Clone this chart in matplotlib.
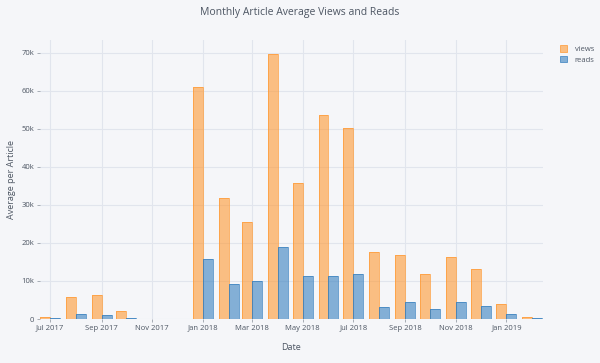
import matplotlib
matplotlib.use("Agg")
import matplotlib.pyplot as plt
import matplotlib.dates as mdates
from matplotlib.ticker import FuncFormatter, MultipleLocator
from matplotlib.patches import Patch
import datetime as dt

months = ["2017-07", "2017-08", "2017-09", "2017-10",
          "2018-01", "2018-02", "2018-03", "2018-04", "2018-05", "2018-06",
          "2018-07", "2018-08", "2018-09", "2018-10", "2018-11", "2018-12",
          "2019-01", "2019-02"]
views = [500, 5700, 6400, 2200,
         60900, 31700, 25600, 69500, 35800, 53500,
         50200, 17600, 16700, 11900, 16200, 13100,
         4000, 600]
reads = [200, 1300, 1050, 350,
         15800, 9200, 10000, 19000, 11400, 11400,
         11800, 3100, 4500, 2700, 4400, 3400,
         1300, 350]
xtick_labels = ["Jul 2017", "Sep 2017", "Nov 2017", "Jan 2018", "Mar 2018",
                "May 2018", "Jul 2018", "Sep 2018", "Nov 2018", "Jan 2019"]

BG = "#F5F6F9"
GRID = "#E1E5ED"
TXT = "#4D5663"
ORANGE = "#ff9933"
BLUE = "#3780bf"

plt.rcParams['font.family'] = ['Open Sans', 'DejaVu Sans']

dates = [dt.datetime.strptime(m, "%Y-%m") for m in months]
x = mdates.date2num(dates)
bw = 12.0

fig = plt.figure(figsize=(6, 3.63), dpi=100, facecolor=BG)
ax = fig.add_axes([40/600, 1 - 319/363, (543-40)/600, (319-40)/363])
ax.set_facecolor(BG)

ax.bar(x - bw/2, views, width=bw, color=ORANGE, alpha=0.6, edgecolor="none", zorder=3)
ax.bar(x - bw/2, views, width=bw, facecolor="none", edgecolor=ORANGE, linewidth=0.5, zorder=3)
ax.bar(x + bw/2, reads, width=bw, color=BLUE, alpha=0.6, edgecolor="none", zorder=3)
ax.bar(x + bw/2, reads, width=bw, facecolor="none", edgecolor=BLUE, linewidth=0.5, zorder=3)

left = mdates.date2num(dt.datetime(2017, 6, 19))
right = mdates.date2num(dt.datetime(2019, 2, 14))
ax.set_xlim(left, right)
ax.set_ylim(0, 73300)

tick_dates = [dt.datetime.strptime(s, "%b %Y") for s in xtick_labels]
ax.set_xticks(mdates.date2num(tick_dates))
ax.set_xticklabels(xtick_labels)
ax.yaxis.set_major_locator(MultipleLocator(10000))
ax.yaxis.set_major_formatter(FuncFormatter(lambda v, p: "0" if v == 0 else f"{int(v/1000)}k"))

ax.grid(True, color=GRID, linewidth=0.8, zorder=0)
for s in ax.spines.values():
    s.set_visible(False)
ax.tick_params(axis="both", colors=TXT, labelsize=5.5, length=2.5, width=0.6, pad=1.5)
ax.tick_params(axis="x", color="#9aa0aa")
ax.tick_params(axis="y", color="#9aa0aa")

ax.set_xlabel("Date", color=TXT, fontsize=6.5)
ax.set_ylabel("Average per Article", color=TXT, fontsize=6.5)
ax.xaxis.set_label_coords(0.5, (319 - 348) / 279, transform=ax.transAxes)
ax.yaxis.set_label_coords((12 - 40) / 503, 0.5, transform=ax.transAxes)
ax.xaxis.label.set_va("center")
ax.yaxis.label.set_va("center")
fig.text(0.5, 1 - 12/363, "Monthly Article Average Views and Reads", ha="center", va="center",
         color=TXT, fontsize=7.5)

handles = [Patch(facecolor=(1, 0.6, 0.2, 0.6), edgecolor=ORANGE, linewidth=0.5, label="views"),
           Patch(facecolor=(0.216, 0.502, 0.749, 0.6), edgecolor=BLUE, linewidth=0.5, label="reads")]
leg = fig.legend(handles=handles, loc="upper left", bbox_to_anchor=(555/600, 1 - 40/363),
                 frameon=False, fontsize=5.5, handlelength=0.9, handleheight=0.9,
                 handletextpad=1.0, labelspacing=0.35, borderpad=0.2)
for t in leg.get_texts():
    t.set_color(TXT)

fig.savefig("out.png", dpi=100, facecolor=BG)
